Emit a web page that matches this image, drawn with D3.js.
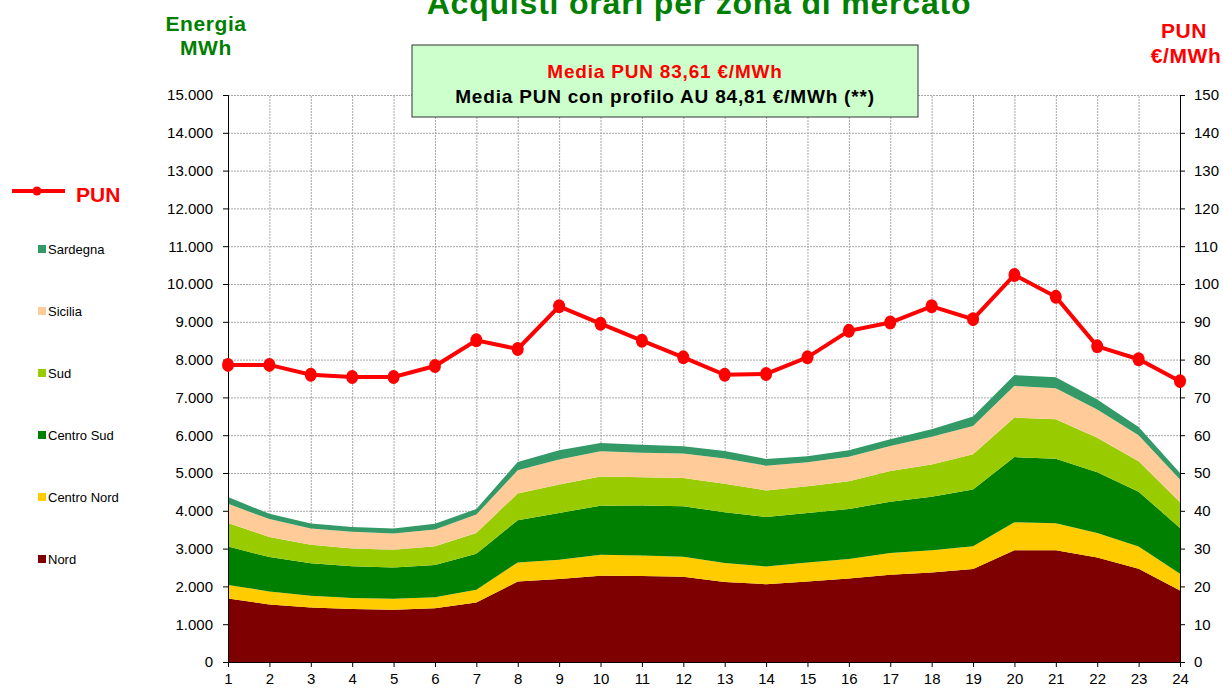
<!DOCTYPE html>
<html>
<head>
<meta charset="utf-8">
<script src="https://cdn.jsdelivr.net/npm/d3@7"></script>
<style>
  body { margin: 0; background: #fff; }
  svg { display: block; font-family: "Liberation Sans", Arial, sans-serif; }
  .grid line { stroke: #a6a6a6; stroke-width: 1; stroke-dasharray: 2,1; }
  .grid path { display: none; }
  .axis text { font-size: 15px; fill: #000; }
  .axis path, .axis line { stroke: #000; }
</style>
</head>
<body>
<script>
// hours 1..24
var ore = d3.range(1, 25);

// MWh per zona
var nord       = [1680,1520,1440,1400,1380,1425,1575,2130,2195,2280,2275,2255,2115,2060,2130,2210,2310,2370,2460,2955,2955,2765,2465,1890];
var centroNord = [360,345,310,290,290,290,335,505,510,555,540,530,505,465,505,515,575,585,600,740,715,645,590,445];
var centroSud  = [1015,910,865,840,830,850,955,1115,1240,1300,1325,1335,1340,1310,1310,1325,1355,1415,1505,1725,1710,1610,1450,1210];
var sud        = [620,530,485,470,470,495,550,710,750,775,750,750,755,705,705,735,810,855,930,1045,1045,910,805,680];
var sicilia    = [510,475,435,445,430,445,485,610,665,665,645,645,670,655,635,645,665,735,750,840,815,750,690,600];
var sardegna   = [180,140,130,125,130,150,150,220,240,220,210,195,195,175,160,170,180,195,250,285,290,265,220,175];

// PUN €/MWh
var pun = [78.6,78.6,76.0,75.4,75.4,78.3,85.1,82.8,94.1,89.5,85.0,80.6,76.0,76.2,80.6,87.6,89.8,94.1,90.7,102.4,96.6,83.5,80.1,74.3];

var zone = [
  { key: "Nord", values: nord, color: "#7f0000" },
  { key: "Centro Nord", values: centroNord, color: "#ffcc00" },
  { key: "Centro Sud", values: centroSud, color: "#008000" },
  { key: "Sud", values: sud, color: "#99cc00" },
  { key: "Sicilia", values: sicilia, color: "#ffcc99" },
  { key: "Sardegna", values: sardegna, color: "#339966" }
];

var W = 1223, H = 691;
var margin = { top: 95, right: 43, bottom: 29, left: 228 };
var width = W - margin.left - margin.right;
var height = H - margin.top - margin.bottom;

var it = d3.formatLocale({ decimal: ",", thousands: ".", grouping: [3], currency: ["", "€"] });
var fmt = it.format(",.0f");

var svg = d3.select("body").append("svg").attr("width", W).attr("height", H);
var g = svg.append("g").attr("transform", "translate(" + margin.left + "," + margin.top + ")");

var x = d3.scaleLinear().domain([1, 24]).range([0, width]);
var y = d3.scaleLinear().domain([0, 15000]).range([height, 0]);
var y2 = d3.scaleLinear().domain([0, 150]).range([height, 0]);

// griglia
g.append("g").attr("class", "grid")
  .call(d3.axisLeft(y).ticks(15).tickSize(-width).tickFormat(""));
g.append("g").attr("class", "grid")
  .attr("transform", "translate(0," + height + ")")
  .call(d3.axisBottom(x).ticks(24).tickSize(-height).tickFormat(""));

// aree impilate
var rows = ore.map(function (h, i) {
  var r = { ora: h };
  zone.forEach(function (z) { r[z.key] = z.values[i]; });
  return r;
});
var stack = d3.stack().keys(zone.map(function (z) { return z.key; }));
var layers = stack(rows);

var area = d3.area()
  .x(function (d) { return x(d.data.ora); })
  .y0(function (d) { return y(d[0]); })
  .y1(function (d) { return y(d[1]); });

g.selectAll(".layer")
  .data(layers)
  .enter().append("path")
  .attr("class", "layer")
  .attr("fill", function (d, i) { return zone[i].color; })
  .attr("d", area);

// assi
g.append("g").attr("class", "axis")
  .call(d3.axisLeft(y).ticks(15).tickFormat(fmt).tickSize(5).tickPadding(10));
g.append("g").attr("class", "axis")
  .attr("transform", "translate(" + width + ",0)")
  .call(d3.axisRight(y2).ticks(15).tickSize(5).tickPadding(9));
g.append("g").attr("class", "axis")
  .attr("transform", "translate(0," + height + ")")
  .call(d3.axisBottom(x).ticks(24).tickFormat(d3.format("d")).tickSize(5).tickPadding(6));

// linea PUN
var line = d3.line()
  .x(function (d, i) { return x(ore[i]); })
  .y(function (d) { return y2(d); });

g.append("path")
  .datum(pun)
  .attr("fill", "none")
  .attr("stroke", "#ff0000")
  .attr("stroke-width", 4)
  .attr("d", line);

g.selectAll(".dot")
  .data(pun)
  .enter().append("ellipse")
  .attr("cx", function (d, i) { return x(ore[i]); })
  .attr("cy", function (d) { return y2(d); })
  .attr("rx", 6)
  .attr("ry", 7)
  .attr("fill", "#ff0000");

// titoli
svg.append("text")
  .attr("x", 699).attr("y", 14)
  .attr("text-anchor", "middle")
  .style("font-size", "32px").style("font-weight", "bold")
  .style("letter-spacing", "0.8px")
  .attr("fill", "#008000")
  .text("Acquisti orari per zona di mercato");

function label(tx, ty, s, col) {
  svg.append("text").attr("x", tx).attr("y", ty).attr("text-anchor", "middle")
    .style("font-size", "21px").style("font-weight", "bold")
    .style("letter-spacing", "0.6px")
    .attr("fill", col).text(s);
}
label(206, 31, "Energia", "#008000");
label(206, 55, "MWh", "#008000");
label(1184, 38, "PUN", "#ff0000");
label(1186, 63, "€/MWh", "#ff0000");

// riquadro media
svg.append("rect")
  .attr("x", 412).attr("y", 45).attr("width", 506).attr("height", 72)
  .attr("fill", "#ccffcc").attr("stroke", "#333").attr("stroke-width", 1);
svg.append("text").attr("x", 665).attr("y", 78).attr("text-anchor", "middle")
  .style("font-size", "19px").style("font-weight", "bold").style("letter-spacing", "0.8px")
  .attr("fill", "#ff0000").text("Media PUN 83,61 €/MWh");
svg.append("text").attr("x", 665).attr("y", 103).attr("text-anchor", "middle")
  .style("font-size", "19px").style("font-weight", "bold").style("letter-spacing", "0.8px")
  .attr("fill", "#000").text("Media PUN con profilo AU 84,81 €/MWh (**)");

// legenda
var leg = svg.append("g");
leg.append("line").attr("x1", 12).attr("x2", 65).attr("y1", 191).attr("y2", 191)
  .attr("stroke", "#ff0000").attr("stroke-width", 4);
leg.append("circle").attr("cx", 37).attr("cy", 191).attr("r", 4.5).attr("fill", "#ff0000");
leg.append("text").attr("x", 76).attr("y", 202)
  .style("font-size", "21px").style("font-weight", "bold")
  .attr("fill", "#ff0000").text("PUN");

var legZone = zone.slice().reverse();
legZone.forEach(function (z, i) {
  var yy = 249 + i * 62;
  leg.append("rect").attr("x", 38).attr("y", yy - 4).attr("width", 8).attr("height", 8).attr("fill", z.color);
  leg.append("text").attr("x", 48).attr("y", yy + 5)
    .style("font-size", "13px").attr("fill", "#000").text(z.key);
});
</script>
</body>
</html>
